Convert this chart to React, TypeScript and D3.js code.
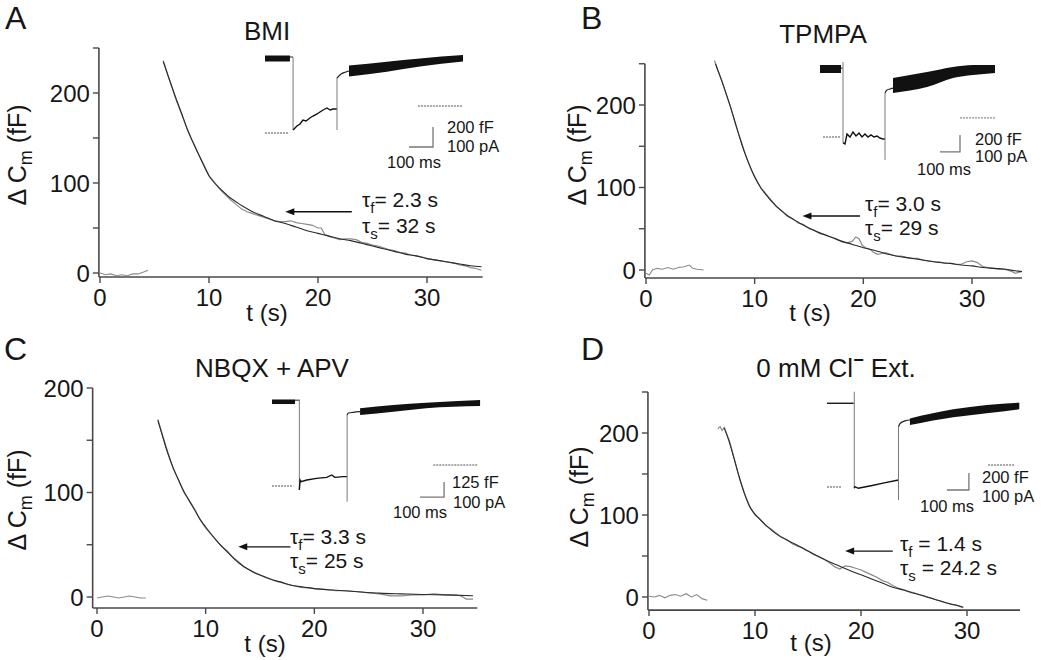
import React from "react";
import * as d3 from "d3";

type P = [number, number];
type B3 = [number, number, number];

// ---------------- main traces (t in s, ΔCm in fF) ----------------
const A_base: P[] = [[0,0],[0.5,-2],[1,-1],[1.5,-3],[2,-2],[2.5,-3],[3,-1],[3.5,-1],[4,1],[4.4,3]];
const A_data: P[] = [[5.8,236],[6.2,221],[6.6,207],[7,192],[7.5,176],[8,160],[8.5,146],[9,133],[9.5,121],[10,108],[10.5,101],[11,93],[11.5,87],[12,81],[12.5,76],[13,71],[13.5,68],[14,66],[14.5,64],[15,62],[15.5,60],[16,58],[16.5,57],[17,57],[17.5,58],[18,56],[18.5,55],[19,54],[19.5,53],[20,50],[20.3,50],[20.6,43],[21,41],[21.5,39],[22,37],[22.5,38],[23,38],[23.5,37],[24,34],[24.5,33],[25,31],[25.5,30],[26,28],[26.5,26],[27,25],[27.5,23],[28,22],[28.5,20],[29,19],[29.5,18],[30,16],[30.5,15],[31,14],[31.5,13],[32,12],[32.5,11],[33,9],[33.5,8],[34,6],[34.5,5],[35,3]];
const A_fit: P[] = [[5.8,235],[6.5,210],[7,193],[7.5,177],[8,160],[8.5,146],[9,133],[9.5,120],[10,108],[10.5,100],[11,94],[12,83],[13,75],[14,68],[15,63],[16,58],[17,55],[18,51],[19,47],[20,44],[21,41],[22,38],[23,36],[24,33],[25,30],[26,27],[27,24],[28,21],[29,19],[30,16],[31,14],[32,12],[33,10],[34,8],[35,7]];

const B_base: P[] = [[0,-4],[0.3,-6],[0.6,0],[1,2],[1.5,1],[2,3],[2.5,1],[3,3],[3.5,4],[4,6],[4.3,2],[4.7,1],[5.3,0]];
const B_data: P[] = [[6.3,254],[6.6,242],[7,229],[7.4,212],[7.8,197],[8.2,178],[8.6,162],[9,146],[9.4,131],[9.8,118],[10.2,108],[10.6,99],[11,93],[11.5,85],[12,77],[12.5,72],[13,65],[13.5,62],[14,57],[14.5,55],[15,50],[15.5,48],[16,44],[16.5,43],[17,40],[17.5,38],[18,34],[18.5,33],[19,35],[19.3,40],[19.6,38],[19.9,30],[20.2,27],[20.6,25],[21,21],[21.3,19],[21.7,20],[22,21],[22.5,19],[23,17],[23.5,17],[24,15],[24.5,14],[25,14],[25.5,12],[26,11],[26.5,10],[27,10],[27.5,8],[28,8],[28.5,7],[29,7],[29.5,10],[30,11],[30.5,9],[31,4],[31.5,3],[32,2],[32.5,1],[33,1],[33.5,-1],[34,-4],[34.5,-2]];
const B_fit: P[] = [[6.4,250],[7,228],[7.5,209],[8,188],[8.5,166],[9,145],[9.5,128],[10,113],[10.5,101],[11,92],[12,77],[13,66],[14,58],[15,51],[16,45],[17,40],[18,35],[19,31],[20,27],[21,24],[22,20],[23,17],[24,15],[25,13],[26,11],[27,9],[28,8],[29,6],[30,5],[31,3],[32,2],[33,1],[34,-1],[34.6,-2]];

const C_base: P[] = [[0,-1],[0.5,0],[1,1],[1.5,0],[2,-1],[2.5,0],[3,1],[3.5,0],[4,-1],[4.5,-1]];
const C_data: P[] = [[5.6,170],[6,156],[6.5,139],[7,123],[7.5,112],[8,100],[8.5,92],[9,84],[9.5,74],[10,66],[10.5,60],[11,54],[11.5,48],[12,44],[12.5,38],[13,34],[13.5,29],[14,26],[14.5,23],[15,21],[15.5,19],[16,17],[16.5,15],[17,14],[17.5,12],[18,11],[18.5,10],[19,9],[19.5,9],[20,8],[21,7],[22,6],[23,6],[24,5],[25,4],[26,3],[27,1],[28,1],[29,2],[30,2],[31,3],[32,2],[33,2],[33.5,1],[34,-2],[34.6,-2]];
const C_fit: P[] = [[5.6,169],[6,155],[6.5,138],[7,124],[7.5,112],[8,101],[8.5,92],[9,83],[9.5,74],[10,67],[11,54],[12,43],[13,33],[14,26],[15,21],[16,17],[17,14],[18,11],[19,9.5],[20,8],[22,6.5],[24,5],[26,3.7],[28,3],[30,2.4],[32,2],[34.6,1.2]];

const D_base: P[] = [[0,1],[0.5,0],[1,2],[1.5,-1],[2,2],[2.5,3],[3,1],[3.5,4],[4,0],[4.5,3],[5,-2],[5.5,-4]];
const D_data: P[] = [[6.5,205],[6.7,208],[6.9,203],[7.1,207],[7.3,200],[7.6,190],[8,171],[8.5,146],[9,127],[9.5,111],[10,100],[10.5,95],[11,87],[11.5,83],[12,78],[12.5,73],[13,70],[13.5,65],[14,62],[14.5,60],[15,56],[15.5,52],[16,49],[16.5,46],[17,42],[17.5,37],[18,34],[18.5,38],[19,37],[19.5,35],[20,33],[20.5,30],[21,27],[21.5,24],[22,20],[22.5,18],[23,14],[23.5,11],[24,9],[24.5,7],[25,5],[25.5,3],[26,1],[26.5,-1],[27,-3],[27.5,-5],[28,-7],[28.5,-9],[29,-10],[29.6,-13]];
const D_fit: P[] = [[7.1,206],[7.5,192],[8,170],[8.5,147],[9,126],[9.5,110],[10,101],[10.5,94],[11,88],[12,77],[13,69.5],[14,63],[15,56],[16,49.5],[17,43],[18,37.5],[19,32],[20,27],[21,22],[22,17],[23,12],[24,8.5],[25,4.5],[26,1],[27,-3],[28,-7],[29,-10],[29.65,-12.6]];

// ---------------- tick values and labels ----------------
const xTicks = [0, 10, 20, 30];
const yMajor = [0, 100, 200];
const yMinorTall = [50, 150, 250];
const yMinorShort = [50, 150];
const titles = ["BMI", "TPMPA", "NBQX + APV", "0 mM Cl"];
const letters = ["A", "B", "C", "D"];
const tauF = ["2.3 s", "3.0 s", "3.3 s", "1.4 s"];
const tauS = ["32 s", "29 s", "25 s", "24.2 s"];
const barLabels = [["200 fF", "100 pA", "100 ms"], ["200 fF", "100 pA", "100 ms"], ["125 fF", "100 pA", "100 ms"], ["200 fF", "100 pA", "100 ms"]];
const barValues = [200, 200, 125, 200];

// ---------------- insets (ms, fF) ----------------
const A_iPre: B3[] = [[0,745,30],[104,745,30]];
const A_iConn: P[] = [[104,760],[117,760]];
const A_iStep1 = [117, 760, 30];
const A_iCur: P[] = [[117,30],[121,40],[133,70],[146,90],[158,130],[171,120],[187,150],[200,170],[217,190],[229,210],[242,230],[258,250],[271,230],[283,240],[300,240]];
const A_iStep2 = [300, 30, 550];
const A_iRise: P[] = [[300,550],[317,590],[337,610],[350,620]];
const A_iPost: B3[] = [[350,620,55],[508,663,50],[646,705,40],[825,747,32]];
const A_iGPre: P[] = [[0,0],[96,0]];
const A_iGPost: P[] = [[637,270],[825,270]];
const A_iBar: P = [700, -140];

const B_iPre: B3[] = [[0,800,47],[105,800,47]];
const B_iConn: P[] = [[105,810],[115,810]];
const B_iStep1 = [115, 882, -70];
const B_iCur: P[] = [[115,-70],[125,-82],[135,35],[150,0],[165,59],[180,12],[195,47],[210,0],[225,35],[240,0],[255,24],[270,0],[285,12],[300,-12],[315,-24],[325,-24]];
const B_iStep2 = [325, -270, 518];
const B_iRise: P[] = [[325,518],[335,553],[350,565],[365,576]];
const B_iPost: B3[] = [[365,606,88],[535,676,88],[665,759,65],[765,788,59],[875,800,47]];
const B_iGPre: P[] = [[15,0],[105,0]];
const B_iGPost: P[] = [[700,224],[880,224]];
const B_iBar: P = [700, -176];

const C_iPre: B3[] = [[0,702,19],[96,702,19]];
const C_iConn: P[] = [[96,715],[114,715]];
const C_iStep1 = [114, 720, -33];
const C_iCur: P[] = [[114,-33],[117,50],[121,36],[145,50],[186,64],[228,72],[249,92],[262,72],[297,78],[313,78]];
const C_iStep2 = [313, -131, 592];
const C_iRise: P[] = [[313,592],[317,606],[338,614],[367,619]];
const C_iPost: B3[] = [[367,619,28],[505,647,28],[642,671,23],[867,692,25]];
const C_iGPre: P[] = [[0,0],[89,0]];
const C_iGPost: P[] = [[672,175],[859,175]];
const C_iBar: P = [717, -92];

const D_iPre: B3[] = [[0,985,8],[120,985,8]];
const D_iConn: P[] = [[120,985],[124,985]];
const D_iStep1 = [124, 1121, -15];
const D_iCur: P[] = [[124,-15],[127,4],[142,-15],[200,15],[260,48],[325,82]];
const D_iStep2 = [325, -153, 709];
const D_iRise: P[] = [[325,709],[332,747],[355,778],[377,788]];
const D_iPost: B3[] = [[377,768,39],[574,867,47],[726,916,49],[874,953,39]];
const D_iGPre: P[] = [[0,0],[67,0]];
const D_iGPost: P[] = [[732,259],[855,259]];
const D_iBar: P = [645, -35];

const FONT = "'Liberation Sans', Arial, Helvetica, sans-serif";
const INK = "#161616";
const AXIS = "#484848";

const panels = [
  { letter: [5, 29], title: [267, 40], xPx: [100, 427], yPx: [273, 93], xAx: [-0.1, 35.1], yAx: [-4.5, 250], minor: yMinorTall,
    ylab: [26, 155], xlab: [267, 321], arrow: [17, 23.1, 68], tau: [362, 207, 233], spaced: false,
    base: A_base, data: A_data, fit: A_fit,
    inset: { x0: 265, y0: 133, msPx: 24, barPx: 20, pre: A_iPre, conn: A_iConn, s1: A_iStep1, cur: A_iCur, s2: A_iStep2, rise: A_iRise, post: A_iPost, gpre: A_iGPre, gpost: A_iGPost, bar: A_iBar,
      txt: [[447, 133], [447, 152], [387, 168]] } },
  { letter: [581, 29], title: [823, 43], xPx: [646, 972], yPx: [270, 105], xAx: [-0.1, 34.6], yAx: [-9.7, 250], minor: yMinorTall,
    ylab: [586, 155], xlab: [810, 321], arrow: [14.4, 19.7, 65.5], tau: [865, 211, 235], spaced: false,
    base: B_base, data: B_data, fit: B_fit,
    inset: { x0: 820, y0: 137, msPx: 20, barPx: 17, pre: B_iPre, conn: B_iConn, s1: B_iStep1, cur: B_iCur, s2: B_iStep2, rise: B_iRise, post: B_iPost, gpre: B_iGPre, gpost: B_iGPost, bar: B_iBar,
      txt: [[975, 145], [975, 162], [917, 175]] } },
  { letter: [4, 360], title: [272, 377], xPx: [97, 423], yPx: [597, 388], xAx: [-0.4, 35], yAx: [-10.5, 200], minor: yMinorShort,
    ylab: [26, 500], xlab: [265, 652], arrow: [13, 17.8, 48], tau: [290, 544, 568], spaced: false,
    base: C_base, data: C_data, fit: C_fit,
    inset: { x0: 272, y0: 486, msPx: 24, barPx: 15, pre: C_iPre, conn: C_iConn, s1: C_iStep1, cur: C_iCur, s2: C_iStep2, rise: C_iRise, post: C_iPost, gpre: C_iGPre, gpost: C_iGPost, bar: C_iBar,
      txt: [[452, 488], [453, 508], [393, 518]] } },
  { letter: [581, 360], title: [836, 377], xPx: [649, 967], yPx: [597, 433], xAx: [-0.1, 35], yAx: [-16, 250], minor: yMinorTall,
    ylab: [588, 497], xlab: [811, 651], arrow: [18.5, 23, 56], tau: [900, 551, 575], spaced: true,
    base: D_base, data: D_data, fit: D_fit,
    inset: { x0: 827, y0: 487, msPx: 22, barPx: 17, pre: D_iPre, conn: D_iConn, s1: D_iStep1, cur: D_iCur, s2: D_iStep2, rise: D_iRise, post: D_iPost, gpre: D_iGPre, gpost: D_iGPost, bar: D_iBar,
      txt: [[982, 483], [982, 502], [920, 512]] } },
];

function Inset({ cfg, idx }: any) {
  const ix = d3.scaleLinear().domain([0, 100]).range([cfg.x0, cfg.x0 + cfg.msPx]);
  const iy = d3.scaleLinear().domain([0, barValues[idx]]).range([cfg.y0, cfg.y0 - cfg.barPx]);
  const band = d3.area<B3>().x(d => ix(d[0])).y0(d => iy(d[1] - d[2])).y1(d => iy(d[1] + d[2])).curve(d3.curveMonotoneX);
  const line = d3.line<P>().x(d => ix(d[0])).y(d => iy(d[1]));
  const smooth = d3.line<P>().x(d => ix(d[0])).y(d => iy(d[1])).curve(d3.curveMonotoneX);
  const [bx, by] = cfg.bar;
  const lbl = barLabels[idx];
  return (
    <g>
      <path d={line(cfg.gpre)!} stroke="#8c8c8c" strokeWidth={1.3} strokeDasharray="2 1" fill="none" />
      <path d={line(cfg.gpost)!} stroke="#8c8c8c" strokeWidth={1.3} strokeDasharray="2 1" fill="none" />
      <path d={band(cfg.pre)!} fill="#111" />
      <path d={line(cfg.conn)!} stroke="#222" strokeWidth={1} fill="none" />
      <line x1={ix(cfg.s1[0])} x2={ix(cfg.s1[0])} y1={iy(cfg.s1[1])} y2={iy(cfg.s1[2])} stroke="#7a7a7a" strokeWidth={1} />
      <path d={line(cfg.cur)!} stroke="#111" strokeWidth={1.4} fill="none" />
      <line x1={ix(cfg.s2[0])} x2={ix(cfg.s2[0])} y1={iy(cfg.s2[1])} y2={iy(cfg.s2[2])} stroke="#7a7a7a" strokeWidth={1} />
      <path d={smooth(cfg.rise)!} stroke="#222" strokeWidth={1.2} fill="none" />
      <path d={band(cfg.post)!} fill="#111" />
      <path d={`M${ix(bx - 100)},${iy(by)}H${ix(bx)}V${iy(by + barValues[idx])}`} stroke="#777" strokeWidth={1.3} fill="none" />
      <g fontFamily={FONT} fontSize={16.5} fill={INK}>
        <text x={cfg.txt[0][0]} y={cfg.txt[0][1]}>{lbl[0]}</text>
        <text x={cfg.txt[1][0]} y={cfg.txt[1][1]}>{lbl[1]}</text>
        <text x={cfg.txt[2][0]} y={cfg.txt[2][1]}>{lbl[2]}</text>
      </g>
    </g>
  );
}

function Panel({ p, idx }: any) {
  const x = d3.scaleLinear().domain([0, 30]).range(p.xPx);
  const y = d3.scaleLinear().domain([0, 200]).range(p.yPx);
  const ax = x(p.xAx[0]);
  const ay = y(p.yAx[0]);
  const line = d3.line<P>().x(d => x(d[0])).y(d => y(d[1]));
  const fitLine = d3.line<P>().x(d => x(d[0])).y(d => y(d[1])).curve(d3.curveMonotoneX);
  const [tipT, tailT, av] = p.arrow;
  const tx = x(tipT), tyA = y(av);
  return (
    <g>
      <text x={p.letter[0]} y={p.letter[1]} fontFamily={FONT} fontSize={32} fill={INK}>{letters[idx]}</text>
      <text x={p.title[0]} y={p.title[1]} fontFamily={FONT} fontSize={26} fill={INK} textAnchor="middle">
        {titles[idx]}
        {idx === 3 && <tspan fontSize={18} fontWeight="bold" dy={-11}>−</tspan>}
        {idx === 3 && <tspan dy={11}> Ext.</tspan>}
      </text>
      {/* axes */}
      <line x1={ax} x2={ax} y1={y(p.yAx[1])} y2={ay} stroke={AXIS} strokeWidth={1.6} />
      <line x1={ax} x2={x(p.xAx[1])} y1={ay} y2={ay} stroke={AXIS} strokeWidth={1.6} />
      {yMajor.map(v => (
        <g key={"ym" + v}>
          <line x1={ax - 6} x2={ax} y1={y(v)} y2={y(v)} stroke={AXIS} strokeWidth={1.4} />
          <text x={ax - 9} y={y(v)} dy="0.36em" textAnchor="end" fontFamily={FONT} fontSize={24} fill={INK}>{v}</text>
        </g>
      ))}
      {p.minor.map((v: number) => (
        <line key={"yn" + v} x1={ax - 6} x2={ax} y1={y(v)} y2={y(v)} stroke={AXIS} strokeWidth={1.4} />
      ))}
      {xTicks.map(t => (
        <g key={"xt" + t}>
          <line x1={x(t)} x2={x(t)} y1={ay} y2={ay + 6} stroke={AXIS} strokeWidth={1.4} />
          <text x={x(t)} y={ay + 29} textAnchor="middle" fontFamily={FONT} fontSize={24} fill={INK}>{t}</text>
        </g>
      ))}
      <text transform={`translate(${p.ylab[0]},${p.ylab[1]}) rotate(-90)`} textAnchor="middle" fontFamily={FONT} fontSize={25} fill={INK}>
        {"Δ C"}<tspan fontSize={18} dy={6}>m</tspan><tspan dy={-6}>{" (fF)"}</tspan>
      </text>
      <text x={p.xlab[0]} y={p.xlab[1]} textAnchor="middle" fontFamily={FONT} fontSize={24} fill={INK}>t (s)</text>
      {/* traces */}
      <path d={line(p.base)!} fill="none" stroke="#8a8a8a" strokeWidth={1.1} />
      <path d={line(p.data)!} fill="none" stroke="#8a8a8a" strokeWidth={1.2} />
      <path d={fitLine(p.fit)!} fill="none" stroke="#2a2a2a" strokeWidth={1.1} />
      {/* annotation */}
      <line x1={x(tailT)} x2={tx + 6} y1={tyA} y2={tyA} stroke="#111" strokeWidth={1.4} />
      <path d={`M${tx},${tyA}l9,-3.5v7z`} fill="#111" />
      <g fontFamily={FONT} fontSize={21} fill={INK}>
        <text x={p.tau[0]} y={p.tau[1]}>τ<tspan fontSize={15} dy={6}>f</tspan><tspan dy={-6}>{(p.spaced ? " = " : "= ") + tauF[idx]}</tspan></text>
        <text x={p.tau[0]} y={p.tau[2]}>τ<tspan fontSize={15} dy={6}>s</tspan><tspan dy={-6}>{(p.spaced ? " = " : "= ") + tauS[idx]}</tspan></text>
      </g>
      <Inset cfg={p.inset} idx={idx} />
    </g>
  );
}

export default function App() {
  return (
    <svg width={1050} height={660} viewBox="0 0 1050 660" style={{ display: "block", position: "absolute", left: 0, top: 0, background: "#fff" }}>
      <rect width={1050} height={660} fill="#fff" />
      {panels.map((p, i) => <Panel key={i} p={p} idx={i} />)}
    </svg>
  );
}
